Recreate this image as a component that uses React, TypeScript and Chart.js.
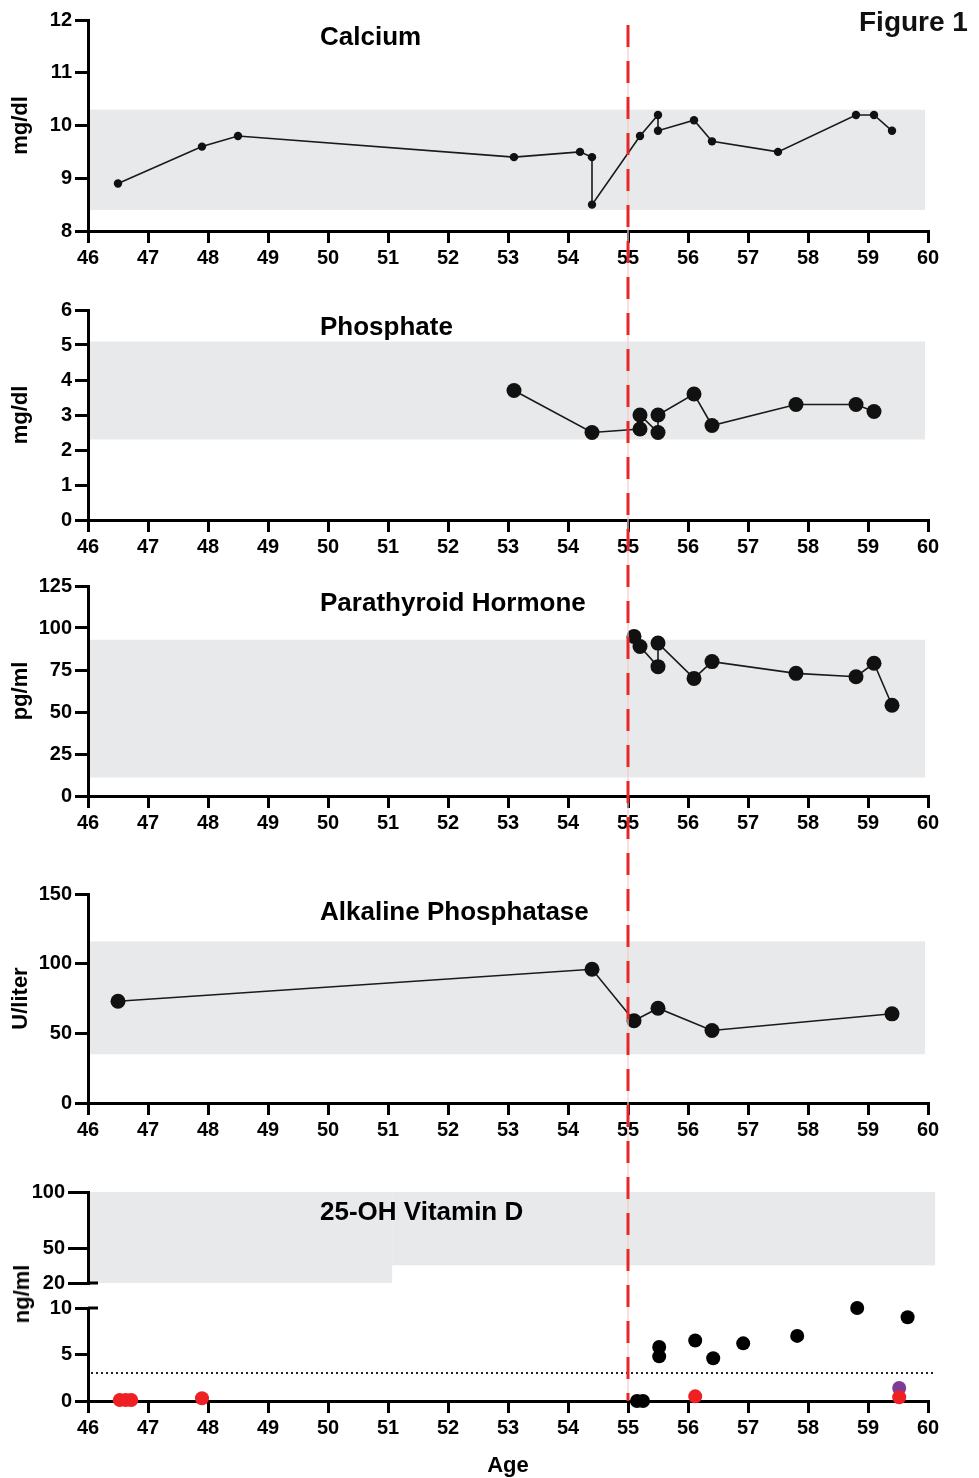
import React, { useEffect, useRef } from 'react';
import { Chart, registerables } from 'chart.js';

Chart.register(...registerables);

const FONT = '"Liberation Sans", Arial, Helvetica, sans-serif';
const W = 979;
const BAND_COLOR = 'rgb(232,233,235)';
const RED = '#e8262a';

// ---------- data ----------
const AGE_TICKS = [46, 47, 48, 49, 50, 51, 52, 53, 54, 55, 56, 57, 58, 59, 60];
const SURGERY_AGE = 55;
const REF_AGE_SPAN = [46, 59.95];

const CA_AGE = [46.5, 47.9, 48.5, 53.1, 54.2, 54.4, 54.4, 55.2, 55.5, 55.5, 56.1, 56.4, 57.5, 58.8, 59.1, 59.4];
const CA_VAL = [8.9, 9.6, 9.8, 9.4, 9.5, 9.4, 8.5, 9.8, 10.2, 9.9, 10.1, 9.7, 9.5, 10.2, 10.2, 9.9];
const CA_REF = [8.4, 10.3];
const CA_TICKS = [8, 9, 10, 11, 12];

const PHOS_AGE = [53.1, 54.4, 55.2, 55.2, 55.5, 55.5, 56.1, 56.4, 57.8, 58.8, 59.1];
const PHOS_VAL = [3.7, 2.5, 2.6, 3.0, 2.5, 3.0, 3.6, 2.7, 3.3, 3.3, 3.1];
const PHOS_REF = [2.3, 5.1];
const PHOS_TICKS = [0, 1, 2, 3, 4, 5, 6];

const PTH_AGE = [55.1, 55.2, 55.5, 55.5, 56.1, 56.4, 57.8, 58.8, 59.1, 59.4];
const PTH_VAL = [95, 89, 77, 91, 70, 80, 73, 71, 79, 54];
const PTH_REF = [11, 93];
const PTH_TICKS = [0, 25, 50, 75, 100, 125];

const ALP_AGE = [46.5, 54.4, 55.1, 55.5, 56.4, 59.4];
const ALP_VAL = [73, 96, 59, 68, 52, 64];
const ALP_REF = [35, 116];
const ALP_TICKS = [0, 50, 100, 150];

const VD_BLACK_AGE = [55.15, 55.25, 55.52, 55.52, 56.12, 56.42, 56.92, 57.82, 58.82, 59.66];
const VD_BLACK_VAL = [0, 0, 5.8, 4.8, 6.5, 4.6, 6.2, 7.0, 10.0, 9.0];
const VD_RED_AGE = [46.53, 46.63, 46.72, 47.9, 56.12, 59.52];
const VD_RED_VAL = [0.1, 0.1, 0.1, 0.3, 0.5, 0.4];
const VD_PURPLE_AGE = [59.52];
const VD_PURPLE_VAL = [1.4];
const VD_LIMIT = 3.0;
const VD_REF_AGE = [46, 51.07, 60.12];
const VD_REF_LOW = [20, 35.5];
const VD_REF_HIGH = [100, 100];
const VD_TOP_TICKS = [20, 50, 100];
const VD_BOT_TICKS = [0, 5, 10];

// ---------- panel definitions ----------
type Series = { x: number[]; y: number[]; color: string; r: number; line: boolean };
type Band = { x0: number; x1: number; y0: number; y1: number };
type PanelCfg = {
  top: number; height: number; padTop: number; padBottom: number; xH: number;
  showX: boolean; xTitle?: string;
  yTicks: number[]; yTickLen: number; yTitle?: string;
  title?: string; titleDy: number;
  series: Series[]; bands: Band[];
  redFromArea: boolean; redToArea: boolean;
  dotted?: { y: number; x0: number; x1: number };
  cap?: number;
};

const blackLine = (x: number[], y: number[], r: number): Series => ({ x, y, color: '#111', r, line: true });
const refBand = (ref: number[]): Band => ({ x0: REF_AGE_SPAN[0], x1: REF_AGE_SPAN[1], y0: ref[0], y1: ref[1] });

const PANELS: PanelCfg[] = [
  {
    top: 0, height: 290, padTop: 20, padBottom: 0, xH: 59, showX: true,
    yTicks: CA_TICKS, yTickLen: 13, yTitle: 'mg/dl', title: 'Calcium', titleDy: 18,
    series: [blackLine(CA_AGE, CA_VAL, 4.2)], bands: [refBand(CA_REF)],
    redFromArea: true, redToArea: false,
  },
  {
    top: 290, height: 276, padTop: 20, padBottom: 0, xH: 46, showX: true,
    yTicks: PHOS_TICKS, yTickLen: 13, yTitle: 'mg/dl', title: 'Phosphate', titleDy: 18,
    series: [blackLine(PHOS_AGE, PHOS_VAL, 7.5)], bands: [refBand(PHOS_REF)],
    redFromArea: false, redToArea: false,
  },
  {
    top: 566, height: 284, padTop: 20, padBottom: 0, xH: 54, showX: true,
    yTicks: PTH_TICKS, yTickLen: 13, yTitle: 'pg/ml', title: 'Parathyroid Hormone', titleDy: 18,
    series: [blackLine(PTH_AGE, PTH_VAL, 7.5)], bands: [refBand(PTH_REF)],
    redFromArea: false, redToArea: false,
  },
  {
    top: 850, height: 310, padTop: 44, padBottom: 0, xH: 57, showX: true,
    yTicks: ALP_TICKS, yTickLen: 13, yTitle: 'U/liter', title: 'Alkaline Phosphatase', titleDy: 19,
    series: [blackLine(ALP_AGE, ALP_VAL, 7.5)], bands: [refBand(ALP_REF)],
    redFromArea: false, redToArea: false,
  },
  {
    top: 1160, height: 136, padTop: 32, padBottom: 13, xH: 0, showX: false,
    yTicks: VD_TOP_TICKS, yTickLen: 20, title: '25-OH Vitamin D', titleDy: 21,
    series: [],
    bands: [
      { x0: VD_REF_AGE[0], x1: VD_REF_AGE[1], y0: VD_REF_LOW[0], y1: VD_REF_HIGH[0] },
      { x0: VD_REF_AGE[1], x1: VD_REF_AGE[2], y0: VD_REF_LOW[1], y1: VD_REF_HIGH[1] },
    ],
    redFromArea: false, redToArea: false, cap: VD_TOP_TICKS[0],
  },
  {
    top: 1296, height: 182, padTop: 12, padBottom: 0, xH: 77, showX: true, xTitle: 'Age',
    yTicks: VD_BOT_TICKS, yTickLen: 13, titleDy: 0,
    series: [
      { x: VD_BLACK_AGE, y: VD_BLACK_VAL, color: '#000', r: 7, line: false },
      { x: VD_RED_AGE, y: VD_RED_VAL, color: '#ee2024', r: 7, line: false },
      { x: VD_PURPLE_AGE, y: VD_PURPLE_VAL, color: '#7d3c98', r: 7, line: false },
    ],
    bands: [],
    redFromArea: false, redToArea: true,
    dotted: { y: VD_LIMIT, x0: VD_REF_AGE[0], x1: VD_REF_AGE[2] },
    cap: VD_BOT_TICKS[VD_BOT_TICKS.length - 1],
  },
];

// ---------- chart config ----------
function buildConfig(p: PanelCfg): any {
  const tickFont = { family: FONT, size: 20, weight: 'bold' as const };
  const titleFont = { family: FONT, size: 22, weight: 'bold' as const, lineHeight: 1.1 };

  const datasets = p.series.map((s) => ({
    data: s.x.map((x, i) => ({ x, y: s.y[i] })),
    showLine: s.line,
    borderColor: '#1a1a1a',
    borderWidth: 1.6,
    pointRadius: s.r,
    pointHoverRadius: s.r,
    pointBackgroundColor: s.color,
    pointBorderColor: s.color,
    pointBorderWidth: 0,
    tension: 0,
    clip: false,
  }));

  const decor = {
    id: 'decor',
    beforeDraw(chart: any) {
      const { ctx } = chart;
      const xs = chart.scales.x;
      const ys = chart.scales.y;
      ctx.save();
      ctx.fillStyle = BAND_COLOR;
      for (const b of p.bands) {
        const x0 = xs.getPixelForValue(b.x0);
        const x1 = xs.getPixelForValue(b.x1);
        const y0 = ys.getPixelForValue(b.y1);
        const y1 = ys.getPixelForValue(b.y0);
        ctx.fillRect(x0, y0, x1 - x0, y1 - y0);
      }
      ctx.restore();
    },
    afterDraw(chart: any) {
      const { ctx, chartArea } = chart;
      const xs = chart.scales.x;
      const ys = chart.scales.y;
      ctx.save();
      if (p.title) {
        ctx.font = `bold 26px ${FONT}`;
        ctx.fillStyle = '#000';
        ctx.textAlign = 'left';
        ctx.textBaseline = 'middle';
        ctx.fillText(p.title, chartArea.left + 232, chartArea.top + p.titleDy);
      }
      if (p.dotted) {
        const y = ys.getPixelForValue(p.dotted.y);
        ctx.strokeStyle = '#222';
        ctx.lineWidth = 2;
        ctx.setLineDash([2, 3]);
        ctx.beginPath();
        ctx.moveTo(xs.getPixelForValue(p.dotted.x0) + 3, y);
        ctx.lineTo(xs.getPixelForValue(p.dotted.x1), y);
        ctx.stroke();
        ctx.setLineDash([]);
      }
      if (p.cap !== undefined) {
        const y = ys.getPixelForValue(p.cap);
        ctx.strokeStyle = '#000';
        ctx.lineWidth = 3;
        ctx.beginPath();
        ctx.moveTo(chartArea.left, y);
        ctx.lineTo(chartArea.left + 10, y);
        ctx.stroke();
      }
      // surgery marker
      const x = xs.getPixelForValue(SURGERY_AGE);
      const y0 = p.redFromArea ? chartArea.top + 5 : 0;
      const y1 = p.redToArea ? chartArea.bottom : chart.height;
      ctx.strokeStyle = 'rgba(250,200,200,0.6)';
      ctx.lineWidth = 2;
      ctx.beginPath();
      ctx.moveTo(x, y0);
      ctx.lineTo(x, y1);
      ctx.stroke();
      ctx.strokeStyle = RED;
      ctx.lineWidth = 3;
      ctx.setLineDash([22, 14]);
      ctx.lineDashOffset = p.top + y0 - 25;
      ctx.beginPath();
      ctx.moveTo(x, y0);
      ctx.lineTo(x, y1);
      ctx.stroke();
      ctx.restore();
    },
  };

  return {
    type: 'scatter',
    data: { datasets },
    options: {
      animation: false,
      responsive: false,
      devicePixelRatio: 1,
      layout: { padding: { top: p.padTop, bottom: p.padBottom, left: 0, right: 51 } },
      plugins: { legend: { display: false }, tooltip: { enabled: false } },
      events: [],
      scales: {
        x: {
          type: 'linear',
          min: AGE_TICKS[0],
          max: AGE_TICKS[AGE_TICKS.length - 1],
          display: p.showX,
          afterBuildTicks: (sc: any) => { sc.ticks = AGE_TICKS.map((v) => ({ value: v })); },
          afterFit: (sc: any) => { sc.height = p.xH; sc.paddingLeft = 0; sc.paddingRight = 0; },
          grid: { drawOnChartArea: false, drawTicks: true, tickLength: 12, color: '#000', lineWidth: 3 },
          border: { display: true, color: '#000', width: 3 },
          ticks: { font: tickFont, color: '#000', padding: 3, autoSkip: false, maxRotation: 0 },
          title: p.xTitle
            ? { display: true, text: p.xTitle, font: titleFont, color: '#000', padding: { top: 0, bottom: 0 } }
            : { display: false },
        },
        y: {
          type: 'linear',
          min: p.yTicks[0],
          max: p.yTicks[p.yTicks.length - 1],
          afterBuildTicks: (sc: any) => { sc.ticks = p.yTicks.map((v) => ({ value: v })); },
          afterFit: (sc: any) => { sc.width = 88; sc.paddingTop = 0; sc.paddingBottom = 0; },
          grid: { drawOnChartArea: false, drawTicks: true, tickLength: p.yTickLen, color: '#000', lineWidth: 3 },
          border: { display: true, color: '#000', width: 3 },
          ticks: { font: tickFont, color: '#000', padding: 3, autoSkip: false },
          title: p.yTitle
            ? { display: true, text: p.yTitle, font: titleFont, color: '#000', padding: { top: 9, bottom: 0 } }
            : { display: false },
        },
      },
    },
    plugins: [decor],
  };
}

function PanelChart({ p }: { p: PanelCfg }) {
  const ref = useRef<HTMLCanvasElement>(null);
  useEffect(() => {
    const chart = new Chart(ref.current as HTMLCanvasElement, buildConfig(p));
    return () => chart.destroy();
  }, [p]);
  return (
    <canvas
      ref={ref}
      width={W}
      height={p.height}
      style={{ position: 'absolute', left: 0, top: p.top, width: W, height: p.height, display: 'block' }}
    />
  );
}

export default function App() {
  return (
    <div style={{ position: 'absolute', left: 0, top: 0, width: W, height: 1478, overflow: 'hidden', background: '#fff' }}>
      {PANELS.map((p, i) => (
        <PanelChart key={i} p={p} />
      ))}
      <div
        style={{
          position: 'absolute', left: 859, top: 8, fontFamily: FONT, fontWeight: 'bold',
          fontSize: 28, lineHeight: '28px', color: '#111', whiteSpace: 'nowrap',
        }}
      >
        Figure 1
      </div>
      <div
        style={{
          position: 'absolute', left: 22, top: 1294, fontFamily: FONT, fontWeight: 'bold',
          fontSize: 22, lineHeight: '22px', color: '#000', whiteSpace: 'nowrap',
          transform: 'translate(-50%, -50%) rotate(-90deg)',
        }}
      >
        ng/ml
      </div>
    </div>
  );
}
